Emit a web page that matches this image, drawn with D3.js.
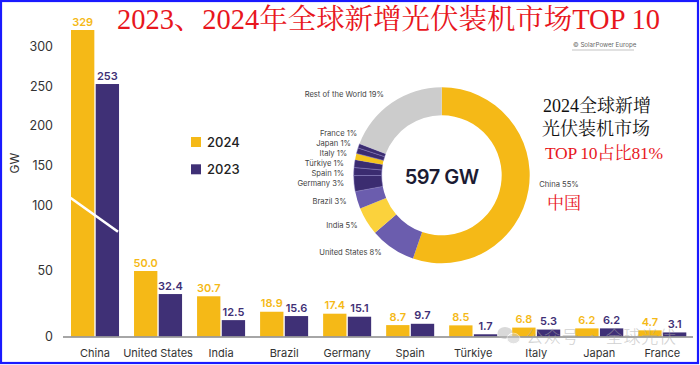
<!DOCTYPE html>
<html><head><meta charset="utf-8">
<script src="https://cdn.jsdelivr.net/npm/d3@7"></script>
<style>
html,body{margin:0;padding:0;background:#fff;}
svg{display:block;}
</style></head>
<body>
<svg id="c" width="700" height="365"></svg>
<script>
// ---- data ----
const countries = ["China","United States","India","Brazil","Germany","Spain","Türkiye","Italy","Japan","France"];
const values2024 = [329,50.0,30.7,18.9,17.4,8.7,8.5,6.8,6.2,4.7];
const values2023 = [253,32.4,12.5,15.6,15.1,9.7,1.7,5.3,6.2,3.1];
const valueLabels2024 = ["329","50.0","30.7","18.9","17.4","8.7","8.5","6.8","6.2","4.7"];
const valueLabels2023 = ["253","32.4","12.5","15.6","15.1","9.7","1.7","5.3","6.2","3.1"];
const yTicks = [0,50,100,150,200,250,300];
const seriesNames = ["2024","2023"];
const donutNames = ["China","United States","India","Brazil","Germany","Spain","Türkiye","Italy","Japan","France","Rest of the World"];
const donutValues = [329,50.0,30.7,18.9,17.4,8.7,8.5,6.8,6.2,4.7,114.1];
const donutPct = ["55%","8%","5%","3%","3%","1%","1%","1%","1%","1%","19%"];
const donutTotalLabel = "597 GW";
const titleText = "2023、2024年全球新增光伏装机市场TOP 10";
const noteLines = ["2024全球新增","光伏装机市场","TOP 10占比81%","中国"];

// ---- layout / style ----
const C24 = "#f5b917", C23 = "#3f3076";
const donutColors = ["#f5b917","#6b5dae","#fbd23c","#6b5dae","#3b2c70","#3b2c70","#3b2c70","#f5c51c","#3b2c70","#3b2c70","#cccccc"];
const labelOffsets = [[97.6,9],[-60,77],[-84,49.7],[-95,26.4],[-97.4,8],[-97.4,-2],[-97.7,-12.3],[-94.4,-22],[-90.7,-31.6],[-84.4,-42],[-57.7,-81.3]];
const sans = "Inter, 'Noto Sans', sans-serif";
const serifCJK = "'Liberation Serif','Noto Serif CJK SC','Noto Sans CJK SC',serif";

const svg = d3.select("#c");

// border
svg.append("rect").attr("x",1).attr("y",1).attr("width",697).attr("height",362)
  .attr("fill","none").attr("stroke","#1a1aff").attr("stroke-width",2.2);

// scales
const x = d3.scaleBand().domain(countries).range([63.5,693.8]).paddingInner(0.238).paddingOuter(0.119);
const xs = d3.scaleBand().domain(seriesNames).range([0,x.bandwidth()]).paddingInner(0.055);
const y = d3.scaleLinear().domain([0,100,300,329]).range([336.5,205.5,46.7,30]);

// y tick labels
svg.append("g").selectAll("text").data(yTicks).join("text")
  .attr("x",53).attr("y",d=>y(d)).attr("dy","0.35em").attr("text-anchor","end")
  .attr("font-family",sans).attr("font-size",12.5).attr("fill","#333").text(d=>d);
svg.append("text").attr("transform","translate(19,163) rotate(-90)").attr("text-anchor","middle")
  .attr("font-family",sans).attr("font-size",12).attr("fill","#333").text("GW");

// bars
const groups = svg.append("g").selectAll("g").data(countries).join("g")
  .attr("transform",d=>`translate(${x(d)},0)`);
groups.append("rect").attr("x",xs("2024")).attr("width",xs.bandwidth())
  .attr("y",(d,i)=>y(values2024[i])).attr("height",(d,i)=>y(0)-y(values2024[i])).attr("fill",C24);
groups.append("rect").attr("x",xs("2023")).attr("width",xs.bandwidth())
  .attr("y",(d,i)=>y(values2023[i])).attr("height",(d,i)=>y(0)-y(values2023[i])).attr("fill",C23);
groups.append("text").attr("x",xs("2024")+xs.bandwidth()/2).attr("y",(d,i)=>y(values2024[i])-4.5)
  .attr("text-anchor","middle").attr("font-family",sans).attr("font-size",11).attr("font-weight",600)
  .attr("fill",C24).text((d,i)=>valueLabels2024[i]);
groups.append("text").attr("x",xs("2023")+xs.bandwidth()/2).attr("y",(d,i)=>y(values2023[i])-4.5)
  .attr("text-anchor","middle").attr("font-family",sans).attr("font-size",11).attr("font-weight",600)
  .attr("fill",C23).text((d,i)=>valueLabels2023[i]);

// break mark on China bars
svg.append("line").attr("x1",x("China")-1).attr("x2",x("China")+x.bandwidth()-1)
  .attr("y1",y(110)).attr("y2",y(80)).attr("stroke","#fff").attr("stroke-width",2.6);

// baseline
svg.append("line").attr("x1",63).attr("x2",693).attr("y1",y(0)+0.5).attr("y2",y(0)+0.5)
  .attr("stroke","#888").attr("stroke-width",1.4);

// category labels
svg.append("g").selectAll("text").data(countries).join("text")
  .attr("x",d=>x(d)+x.bandwidth()/2).attr("y",356.5).attr("text-anchor","middle")
  .attr("font-family",sans).attr("font-size",11).attr("fill","#333").text(d=>d);

// legend
const leg = svg.append("g").selectAll("g").data(seriesNames).join("g")
  .attr("transform",(d,i)=>`translate(191,${137+i*27.3})`);
leg.append("rect").attr("width",10).attr("height",10).attr("fill",(d,i)=>i?C23:C24);
leg.append("text").attr("x",16).attr("y",5).attr("dy","0.36em").attr("font-family",sans)
  .attr("font-size",13).attr("font-weight",500).attr("fill","#222").text(d=>d);

// title
svg.append("text").attr("x",117).attr("y",29).attr("font-family",serifCJK).attr("font-size",28.5)
  .attr("fill","#e8161d").attr("textLength",543).attr("lengthAdjust","spacingAndGlyphs").text(titleText);

// copyright
svg.append("text").attr("x",573).attr("y",46.5).attr("font-family",sans).attr("font-size",6.2)
  .attr("fill","#666").text("© SolarPower Europe");
svg.append("line").attr("x1",572).attr("x2",634).attr("y1",50).attr("y2",50).attr("stroke","#aaa").attr("stroke-width",0.7);

// donut
const cx = 441.7, cy = 175.3;
const pie = d3.pie().sort(null).value(d=>d)(donutValues);
const arc = d3.arc().innerRadius(60).outerRadius(88);
const dg = svg.append("g").attr("transform",`translate(${cx},${cy})`);
dg.selectAll("path").data(pie).join("path").attr("d",arc).attr("fill",(d,i)=>donutColors[i])
  .attr("stroke",(d,i)=>[4,5,6,8,9].includes(i)?"#8d82c4":"none").attr("stroke-width",0.5);
dg.append("text").attr("y",1).attr("dy","0.36em").attr("text-anchor","middle").attr("font-family",sans)
  .attr("font-size",20).attr("font-weight",600).attr("fill","#1c1b33").attr("letter-spacing",-0.5).text(donutTotalLabel);
dg.selectAll("text.lbl").data(donutNames).join("text").attr("class","lbl")
  .attr("x",(d,i)=>labelOffsets[i][0]).attr("y",(d,i)=>labelOffsets[i][1]).attr("dy","0.35em")
  .attr("text-anchor",(d,i)=>i===0?"start":"end").attr("font-family",sans).attr("font-size",7.6)
  .attr("fill","#444").text((d,i)=>d+" "+donutPct[i]);

// annotation
const note = svg.append("g");
note.append("text").attr("x",543).attr("y",112).attr("font-family",serifCJK).attr("font-size",18).attr("fill","#111").text(noteLines[0]);
note.append("text").attr("x",542).attr("y",135).attr("font-family",serifCJK).attr("font-size",18).attr("fill","#111").text(noteLines[1]);
note.append("text").attr("x",545).attr("y",159).attr("font-family",serifCJK).attr("font-size",17.5).attr("fill","#e8161d")
  .attr("textLength",118).attr("lengthAdjust","spacing").text(noteLines[2]);
note.append("text").attr("x",547).attr("y",209).attr("font-family",serifCJK).attr("font-size",17).attr("fill","#e8161d").text(noteLines[3]);

// watermark
const wm = svg.append("g").attr("opacity",0.55);
wm.append("ellipse").attr("cx",505).attr("cy",333).attr("rx",7.5).attr("ry",6).attr("fill","#bbb");
wm.append("ellipse").attr("cx",513.5).attr("cy",338.5).attr("rx",6.5).attr("ry",5.3).attr("fill","#ccc").attr("stroke","#fff").attr("stroke-width",1);
wm.append("text").attr("x",526).attr("y",343).attr("font-family","'Noto Sans CJK SC',sans-serif").attr("font-size",17)
  .attr("fill","#aaa").attr("font-weight",300).attr("textLength",150).attr("lengthAdjust","spacing").text("公众号 · 全球光伏");
</script>
</body></html>
